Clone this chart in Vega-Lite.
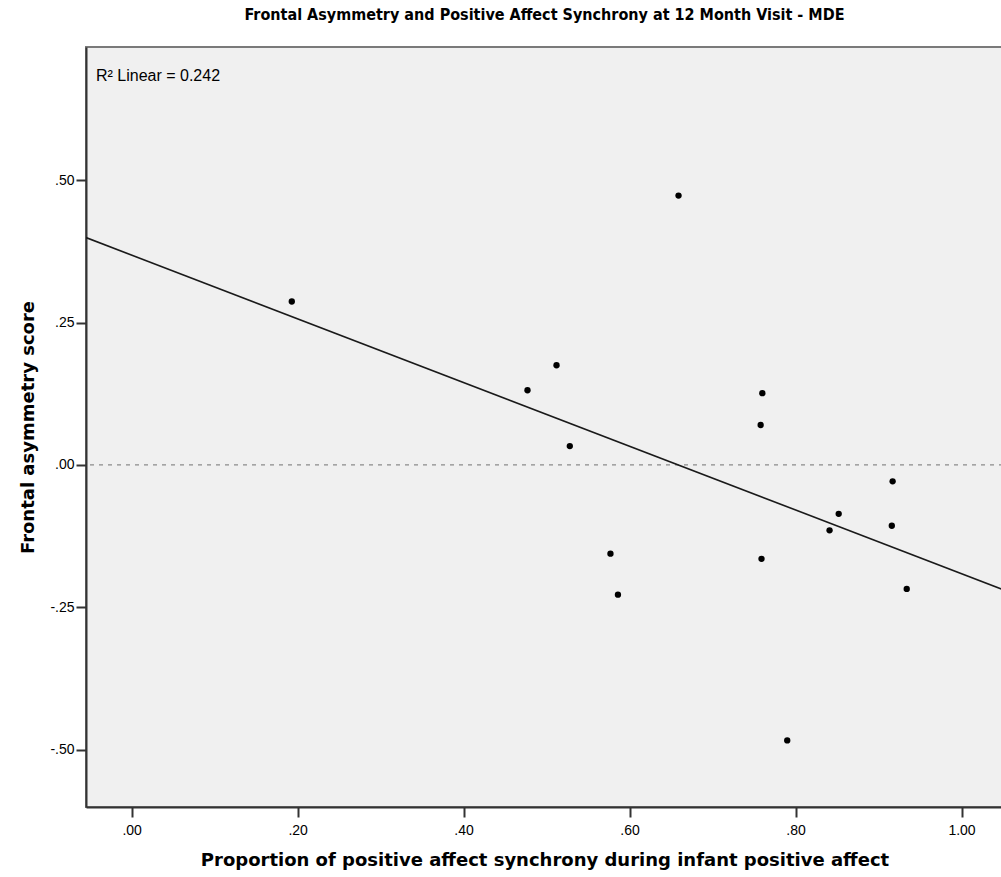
{
  "$schema": "https://vega.github.io/schema/vega-lite/v6.json",
  "width": 917,
  "height": 760,
  "autosize": "none",
  "padding": {"left": 86, "top": 47, "right": 0, "bottom": 70},
  "background": "white",
  "title": {
    "text": "Frontal Asymmetry and Positive Affect Synchrony at 12 Month Visit - MDE",
    "font": "DejaVu Sans Condensed, Liberation Sans",
    "fontSize": 16,
    "fontWeight": "bold",
    "color": "#000000",
    "anchor": "middle",
    "frame": "group",
    "offset": 24
  },
  "config": {
    "view": {"fill": "#f0f0f0", "stroke": "#7a7a7a", "strokeWidth": 2},
    "axis": {
      "grid": false,
      "domainColor": "#333333",
      "domainWidth": 2,
      "tickColor": "#333333",
      "tickWidth": 2,
      "tickSize": 10,
      "labelFont": "Liberation Sans",
      "labelFontSize": 14,
      "labelColor": "#000000",
      "titleFont": "DejaVu Sans",
      "titleFontSize": 18,
      "titleFontWeight": "bold",
      "titleColor": "#000000"
    }
  },
  "data": {
    "values": [
      {"x": 0.193, "y": 0.287},
      {"x": 0.477, "y": 0.131},
      {"x": 0.512, "y": 0.175},
      {"x": 0.528, "y": 0.033},
      {"x": 0.659, "y": 0.473},
      {"x": 0.760, "y": 0.126},
      {"x": 0.758, "y": 0.070},
      {"x": 0.577, "y": -0.156},
      {"x": 0.586, "y": -0.228},
      {"x": 0.759, "y": -0.165},
      {"x": 0.790, "y": -0.484},
      {"x": 0.852, "y": -0.086},
      {"x": 0.841, "y": -0.115},
      {"x": 0.917, "y": -0.029},
      {"x": 0.916, "y": -0.107},
      {"x": 0.934, "y": -0.218}
    ]
  },
  "layer": [
    {
      "data": {"values": [{"ref": 0}]},
      "mark": {"type": "rule", "color": "#8a8a8a", "strokeDash": [4, 5], "strokeWidth": 1.2},
      "encoding": {
        "y": {
          "field": "ref",
          "type": "quantitative",
          "scale": {"domain": [-0.601, 0.734], "nice": false, "zero": false},
          "axis": {
            "title": "Frontal asymmetry score",
            "values": [-0.5, -0.25, 0, 0.25, 0.5],
            "labelExpr": "replace(replace(format(datum.value, '.2f'), '\u2212', '-'), /^(-?)0\\./, '$1.')",
            "labelPadding": 2,
            "titlePadding": 12
          }
        }
      }
    },
    {
      "transform": [{"regression": "y", "on": "x", "extent": [-0.055, 1.05]}],
      "mark": {"type": "line", "color": "#1a1a1a", "strokeWidth": 1.6, "clip": true},
      "encoding": {
        "x": {
          "field": "x",
          "type": "quantitative",
          "scale": {"domain": [-0.055, 1.05], "nice": false, "zero": false},
          "axis": {
            "title": "Proportion of positive affect synchrony during infant positive affect",
            "values": [0, 0.2, 0.4, 0.6, 0.8, 1.0],
            "labelExpr": "replace(format(datum.value, '.2f'), /^0\\./, '.')",
            "labelPadding": 6,
            "titlePadding": 14
          }
        },
        "y": {"field": "y", "type": "quantitative"}
      }
    },
    {
      "mark": {"type": "circle", "size": 40, "color": "#000000", "opacity": 1},
      "encoding": {
        "x": {"field": "x", "type": "quantitative"},
        "y": {"field": "y", "type": "quantitative"}
      }
    },
    {
      "data": {"values": [{"label": "R² Linear = 0.242"}]},
      "mark": {"type": "text", "align": "left", "baseline": "alphabetic", "font": "Liberation Sans", "fontSize": 16, "color": "#000000"},
      "encoding": {
        "x": {"datum": -0.043, "type": "quantitative"},
        "y": {"datum": 0.674, "type": "quantitative"},
        "text": {"field": "label"}
      }
    }
  ]
}
